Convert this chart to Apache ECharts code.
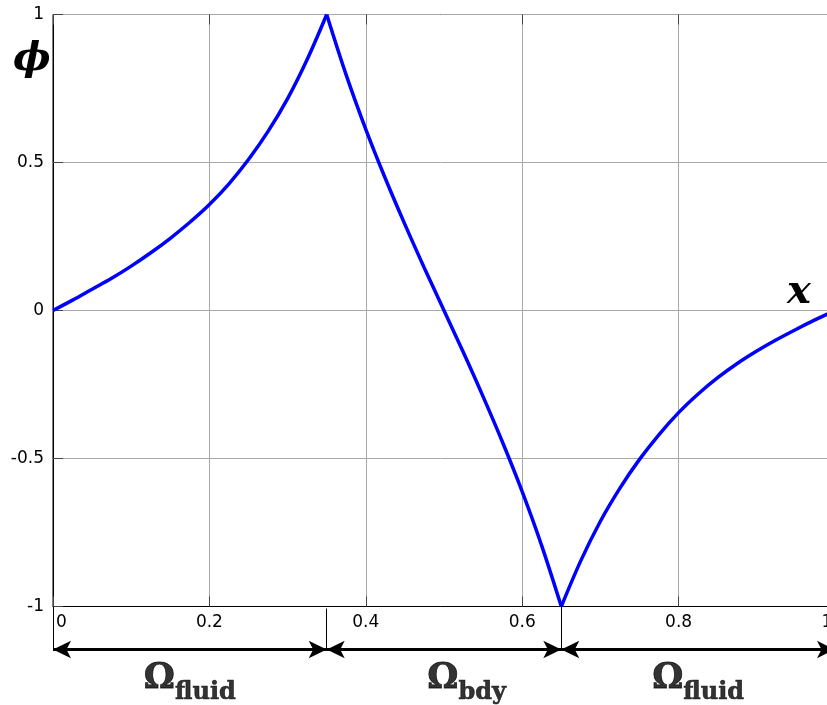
<!DOCTYPE html>
<html>
<head>
<meta charset="utf-8">
<script src="https://cdn.jsdelivr.net/npm/echarts@6/dist/echarts.min.js"></script>
<style>
html,body{margin:0;padding:0;background:#fff;}
#chart{width:827px;height:705px;}
</style>
</head>
<body>
<div id="chart"></div>
<script>
// ---- data ----
const xs = [0,0.025,0.05,0.075,0.1,0.125,0.15,0.175,0.2,0.225,0.25,0.275,0.3,0.325,0.35,
  0.375,0.4,0.425,0.45,0.475,0.5,0.525,0.55,0.575,0.6,0.625,0.65,
  0.675,0.7,0.725,0.75,0.775,0.8,0.825,0.85,0.875,0.9,0.925,0.95,0.975,1];
const phi = [0,0.035,0.072,0.109,0.150,0.195,0.244,0.298,0.358,0.428,0.510,0.605,0.716,0.848,1,
  0.795,0.612,0.446,0.291,0.143,0,-0.143,-0.291,-0.446,-0.612,-0.795,-1,
  -0.845,-0.712,-0.600,-0.503,-0.419,-0.345,-0.282,-0.227,-0.179,-0.137,-0.099,-0.064,-0.031,0];
const regionBounds = [0, 0.35, 0.65, 1];
const regionNames = ['fluid', 'bdy', 'fluid'];
const regionLabelX = [0.175, 0.529, 0.825];
// annotation levels (offset below the plot, in annotation-axis units)
const barTop = 0, barBottom = 44, arrowLevel = 43, labelLevel = 70;

const curve = xs.map((x, i) => [x, phi[i]]);
// split the curve at its kinks so each smooth piece keeps the sharp corners
const pieces = [];
let start = 0;
for (let i = 1; i < xs.length; i++) {
  if (regionBounds.indexOf(xs[i]) > 0 || i === xs.length - 1) {
    pieces.push(curve.slice(start, i + 1));
    start = i;
  }
}

const bars = regionBounds.slice(0, 3).map(b => [
  {coord: [b, b === 0.35 ? barTop + 2 : barTop]}, {coord: [b, barBottom]}
]);
const arrows = [];
for (let i = 0; i < 3; i++) {
  arrows.push([{coord: [regionBounds[i], arrowLevel]}, {coord: [regionBounds[i + 1], arrowLevel]}]);
}
const labels = regionNames.map((n, i) => ({value: [regionLabelX[i], labelLevel], name: n}));

const chart = echarts.init(document.getElementById('chart'), null, {renderer: 'canvas'});
const gridCommon = {left: 53, width: 782, outerBoundsMode: 'none', containLabel: false};
const curveSeries = pieces.map(p => ({
  type: 'line', xAxisIndex: 0, yAxisIndex: 0, data: p,
  showSymbol: false, symbol: 'none', smooth: 0.35,
  lineStyle: {color: '#0000ff', width: 3.5}, z: 5
}));
chart.setOption({
  animation: false,
  backgroundColor: '#fff',
  grid: [
    Object.assign({top: 14.5, height: 592, show: true, borderColor: '#000', borderWidth: 1}, gridCommon),
    Object.assign({top: 606.5, height: 98.5, show: false}, gridCommon)
  ],
  xAxis: [
    {
      gridIndex: 0, type: 'value', min: 0, max: 1, interval: 0.2, position: 'bottom',
      axisLine: {show: true, onZero: false, lineStyle: {color: '#000', width: 1}},
      axisTick: {show: true, inside: true, length: 10, lineStyle: {color: '#444'}},
      splitLine: {show: true, lineStyle: {color: '#a8a8a8', width: 1}},
      axisLabel: {
        show: true, color: '#000', fontFamily: 'DejaVu Sans', fontSize: 17, margin: 8,
        showMinLabel: true, showMaxLabel: true, alignMinLabel: 'left',
        formatter: function (v) {
          if (v === 0) return '{l|0}';
          if (v === 1) return '{r|1}';
          return String(v);
        },
        rich: {
          l: {fontFamily: 'DejaVu Sans', fontSize: 17, color: '#000', padding: [0, 0, 0, 3]},
          r: {fontFamily: 'DejaVu Sans', fontSize: 17, color: '#000', padding: [0, 16, 0, 0]}
        }
      }
    },
    {
      gridIndex: 0, type: 'value', min: 0, max: 1, interval: 0.2, position: 'top',
      axisLine: {show: false, onZero: false},
      axisTick: {show: true, inside: true, length: 10, lineStyle: {color: '#444'}},
      splitLine: {show: false}, axisLabel: {show: false}
    },
    {gridIndex: 1, type: 'value', min: 0, max: 1, show: false, axisLine: {onZero: false}}
  ],
  yAxis: [
    {
      gridIndex: 0, type: 'value', min: -1, max: 1, interval: 0.5,
      axisLine: {show: true, onZero: false, lineStyle: {color: '#000', width: 1}},
      axisTick: {show: true, inside: true, length: 10, lineStyle: {color: '#444'}},
      splitLine: {show: true, lineStyle: {color: '#a8a8a8', width: 1}},
      axisLabel: {show: true, color: '#000', fontFamily: 'DejaVu Sans', fontSize: 17, margin: 9,
        showMinLabel: true, showMaxLabel: true}
    },
    {gridIndex: 1, type: 'value', min: 0, max: 98.5, inverse: true, show: false, axisLine: {onZero: false}}
  ],
  series: curveSeries.concat([
    {
      type: 'scatter', xAxisIndex: 2, yAxisIndex: 1, data: labels,
      symbolSize: 1, itemStyle: {color: 'rgba(0,0,0,0)'}, silent: true,
      label: {
        show: true, position: 'inside', color: '#000',
        formatter: function (p) { return '{a|Ω}{b|' + p.name + '}'; },
        rich: {
          a: {fontFamily: 'DejaVu Serif', fontWeight: 'bold', fontSize: 35, color: '#000', textBorderColor: '#000', textBorderWidth: 0.8, verticalAlign: 'bottom', lineHeight: 40},
          b: {fontFamily: 'DejaVu Serif', fontWeight: 'bold', fontSize: 24, color: '#000', textBorderColor: '#000', textBorderWidth: 0.6, verticalAlign: 'bottom', lineHeight: 24, padding: [0, 0, -8, 0]}
        }
      },
      markLine: {
        silent: true, symbol: 'none', animation: false,
        lineStyle: {color: '#000', width: 1, type: 'solid'},
        label: {show: false},
        data: bars
      }
    },
    {
      type: 'line', xAxisIndex: 2, yAxisIndex: 1, data: [], silent: true,
      markLine: {
        silent: true, symbol: ['arrow', 'arrow'], symbolSize: [13, 18], animation: false,
        lineStyle: {color: '#000', width: 3, type: 'solid'},
        itemStyle: {color: '#000'},
        label: {show: false},
        data: arrows
      }
    }
  ]),
  graphic: [
    {type: 'text', left: 13, top: 40, style: {text: 'ϕ', font: 'italic bold 40px "DejaVu Serif"', fill: '#000'}},
    {type: 'text', left: 787, top: 273, style: {text: 'x', font: 'italic bold 40px "DejaVu Serif"', fill: '#000'}}
  ]
});
</script>
</body>
</html>
